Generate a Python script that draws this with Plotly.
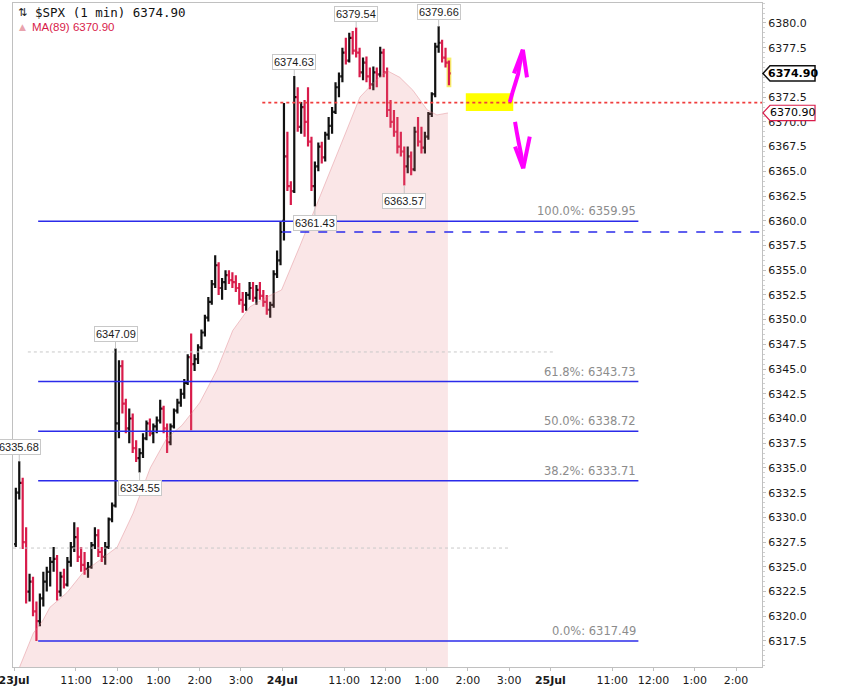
import plotly.graph_objects as go

# ---------------- data ----------------
SESSION = 390   # minutes in one trading session
BAR = 5         # minutes per bar

# 23 Jul session (5-minute bars)
day1_open = [6327.3, 6332.5, 6333.5, 6327.5, 6322.5, 6323.5, 6320.5, 6319.5, 6321.8, 6323.5,
             6324.5, 6325.5, 6325.8, 6322.5, 6324.0, 6323.2, 6325.5, 6327.0, 6328.0, 6326.0,
             6325.2, 6324.8, 6325.0, 6327.2, 6328.2, 6326.5, 6326.0, 6327.0, 6329.8, 6331.2,
             6339.5, 6345.3, 6341.5, 6339.0, 6340.0, 6337.0, 6336.0, 6336.5, 6338.0, 6339.5,
             6338.5, 6339.2, 6339.8, 6341.0, 6339.0, 6337.6, 6339.2, 6340.8, 6341.6, 6342.5,
             6343.6, 6346.2, 6345.5, 6346.0, 6347.2, 6348.7, 6350.2, 6351.8, 6353.6, 6355.5,
             6353.2, 6353.8, 6354.5, 6354.0, 6353.8, 6353.2, 6352.0, 6351.5, 6352.5, 6353.2,
             6352.2, 6353.0, 6352.4, 6351.8, 6351.0, 6351.5, 6354.6, 6356.0]
day1_high = [6333.0, 6335.68, 6334.0, 6329.0, 6324.3, 6324.0, 6321.5, 6322.3, 6324.5, 6325.0,
             6326.0, 6327.0, 6326.2, 6324.5, 6324.8, 6326.0, 6327.5, 6329.5, 6329.0, 6327.0,
             6326.5, 6325.5, 6327.5, 6329.0, 6328.8, 6327.0, 6327.5, 6330.0, 6331.5, 6347.09,
             6345.9, 6345.9, 6342.0, 6341.0, 6340.5, 6337.8, 6337.0, 6338.5, 6339.8, 6340.0,
             6339.5, 6340.2, 6341.9, 6341.3, 6339.5, 6339.5, 6341.0, 6342.0, 6343.0, 6344.0,
             6346.5, 6348.6, 6346.5, 6347.5, 6349.0, 6350.5, 6352.3, 6354.0, 6356.5, 6355.8,
             6354.2, 6355.0, 6355.0, 6354.8, 6354.5, 6353.7, 6352.8, 6352.8, 6353.8, 6353.8,
             6353.5, 6353.8, 6353.0, 6352.5, 6351.8, 6355.0, 6357.0, 6359.95]
day1_low = [6327.0, 6331.8, 6326.8, 6321.3, 6321.5, 6320.0, 6317.49, 6319.0, 6321.0, 6322.5,
            6323.0, 6324.5, 6321.6, 6322.0, 6322.8, 6323.0, 6325.0, 6326.5, 6325.5, 6324.5,
            6324.2, 6323.9, 6324.8, 6326.8, 6326.0, 6325.5, 6325.2, 6326.8, 6329.5, 6331.0,
            6338.0, 6340.5, 6338.5, 6337.5, 6336.5, 6335.6, 6334.55, 6336.0, 6337.8, 6338.2,
            6337.5, 6338.5, 6339.5, 6338.5, 6336.5, 6337.3, 6339.0, 6340.5, 6341.2, 6342.0,
            6343.4, 6338.8, 6344.8, 6345.5, 6347.0, 6348.3, 6349.8, 6351.5, 6353.2, 6352.5,
            6352.0, 6353.0, 6353.6, 6353.2, 6352.8, 6351.5, 6350.7, 6350.9, 6352.0, 6351.8,
            6351.5, 6352.0, 6351.3, 6350.5, 6350.2, 6351.2, 6354.2, 6355.5]
day1_close = [6332.5, 6333.5, 6327.5, 6322.5, 6323.5, 6320.5, 6319.5, 6321.8, 6323.5, 6324.5,
              6325.5, 6325.8, 6322.5, 6324.0, 6323.2, 6325.5, 6327.0, 6328.0, 6326.0, 6325.2,
              6324.8, 6325.0, 6327.2, 6328.2, 6326.5, 6326.0, 6327.0, 6329.8, 6331.2, 6339.5,
              6345.3, 6341.5, 6339.0, 6340.0, 6337.0, 6336.0, 6336.5, 6338.0, 6339.5, 6338.5,
              6339.2, 6339.8, 6341.0, 6339.0, 6337.6, 6339.2, 6340.8, 6341.6, 6342.5, 6343.6,
              6346.2, 6345.5, 6346.0, 6347.2, 6348.7, 6350.2, 6351.8, 6353.6, 6355.5, 6353.2,
              6353.8, 6354.5, 6354.0, 6353.8, 6353.2, 6352.0, 6351.5, 6352.5, 6353.2, 6352.2,
              6353.0, 6352.4, 6351.8, 6351.0, 6351.5, 6354.6, 6356.0, 6358.86]

# 24 Jul session (5-minute bars, up to ~1:35)
day2_open = [6360.0, 6366.5, 6363.5, 6363.0, 6372.5, 6369.5, 6371.5, 6370.0, 6368.0, 6363.5,
             6365.5, 6367.5, 6366.4, 6368.7, 6369.6, 6371.0, 6373.5, 6374.6, 6377.0, 6376.2,
             6378.5, 6377.2, 6377.0, 6375.0, 6376.0, 6374.6, 6373.8, 6375.0, 6374.8, 6377.0,
             6375.0, 6371.2, 6370.0, 6369.0, 6367.5, 6367.0, 6365.5, 6366.5, 6365.2, 6369.0,
             6368.0, 6367.4, 6368.5, 6370.8, 6372.8, 6377.6, 6378.0, 6376.5, 6376.0]
day2_high = [6371.9, 6369.0, 6364.0, 6374.63, 6373.5, 6372.0, 6372.2, 6373.5, 6368.5, 6366.0,
             6367.9, 6368.0, 6369.0, 6370.5, 6371.5, 6374.0, 6375.0, 6377.5, 6378.5, 6379.0,
             6379.2, 6379.54, 6377.5, 6376.5, 6376.6, 6375.5, 6375.6, 6375.5, 6377.6, 6377.4,
             6375.5, 6372.2, 6371.2, 6370.5, 6369.0, 6367.5, 6367.5, 6367.0, 6369.5, 6370.5,
             6369.5, 6369.0, 6371.0, 6373.0, 6378.0, 6379.66, 6378.3, 6377.5, 6376.2]
day2_low = [6358.0, 6363.0, 6361.6, 6362.8, 6369.0, 6368.8, 6368.5, 6367.5, 6363.0, 6361.43,
            6365.0, 6365.8, 6366.0, 6368.2, 6368.8, 6370.8, 6372.5, 6374.0, 6375.8, 6376.0,
            6376.8, 6376.5, 6374.5, 6374.2, 6374.0, 6373.3, 6373.2, 6373.5, 6374.5, 6374.5,
            6370.5, 6369.4, 6368.5, 6366.8, 6366.5, 6363.57, 6364.8, 6364.6, 6365.0, 6367.5,
            6366.8, 6366.8, 6368.2, 6370.5, 6372.5, 6377.0, 6376.0, 6375.5, 6373.7]
day2_close = [6366.5, 6363.5, 6363.0, 6372.5, 6369.5, 6371.5, 6370.0, 6368.0, 6363.5, 6365.5,
              6367.5, 6366.4, 6368.7, 6369.6, 6371.0, 6373.5, 6374.6, 6377.0, 6376.2, 6378.5,
              6377.2, 6377.0, 6375.0, 6376.0, 6374.6, 6373.8, 6375.0, 6374.8, 6377.0, 6375.0,
              6371.2, 6370.0, 6369.0, 6367.5, 6367.0, 6365.5, 6366.5, 6365.2, 6369.0, 6368.0,
              6367.4, 6368.5, 6370.8, 6372.8, 6377.6, 6378.0, 6376.5, 6376.0, 6374.90]

# MA(89) read along its edge (minutes since 23 Jul open)
ma_minute = [0, 12, 28, 42, 52, 77, 100, 125, 150, 173, 198, 222, 244, 270, 295, 318, 343,
             368, 389, 416, 455, 484, 503, 522, 542, 561, 580, 601, 615, 631]
ma_value = [6313.5, 6315.6, 6318.3, 6319.6, 6320.9, 6322.4, 6324.4, 6325.7, 6327.0, 6330.4,
            6335.0, 6338.0, 6339.3, 6341.6, 6344.9, 6348.9, 6351.3, 6352.3, 6353.0, 6357.5,
            6364.1, 6369.2, 6372.5, 6373.9, 6375.2, 6374.5, 6373.2, 6371.2, 6370.7, 6370.9]

last_price = 6374.90
ma_last = 6370.90
prev_close = 6358.86
drawn_level = 6371.95
gray_levels = [6346.73, 6326.90]
gray_spans = [(20, 784), (-1.6, 721)]

fib_pct = ["100.0%", "61.8%", "50.0%", "38.2%", "0.0%"]
fib_level = [6359.95, 6343.73, 6338.72, 6333.71, 6317.49]
fib_span = (35, 908)

# swing labels: (session, bar index, value, side)
swing_session = [0, 0, 0, 1, 1, 1, 1, 1]
swing_bar = [1, 29, 36, 3, 9, 21, 35, 45]
swing_value = [6335.68, 6347.09, 6334.55, 6374.63, 6361.43, 6379.54, 6363.57, 6379.66]
swing_side = ["up", "up", "down", "up", "down", "up", "down", "up"]

x_tick_minutes = [0, 90, 150, 210, 270, 330, 390, 480, 540, 600, 660, 720, 780, 870, 930, 990, 1050]
x_tick_text = ["<b>23Jul</b>", "11:00", "12:00", "1:00", "2:00", "3:00",
               "<b>24Jul</b>", "11:00", "12:00", "1:00", "2:00", "3:00",
               "<b>25Jul</b>", "11:00", "12:00", "1:00", "2:00"]
# 6375.0 sits under the last-price tag in the reference, so it is not printed
y_tick_values = [6317.5, 6320.0, 6322.5, 6325.0, 6327.5, 6330.0, 6332.5, 6335.0, 6337.5,
                 6340.0, 6342.5, 6345.0, 6347.5, 6350.0, 6352.5, 6355.0, 6357.5, 6360.0,
                 6362.5, 6365.0, 6367.5, 6370.0, 6372.5, 6377.5, 6380.0]

X_RANGE = [-1.6, 1087.8]
Y_RANGE = [6314.87, 6382.02]

# hand-drawn markup (chart units)
highlight_box = dict(x0=657, x1=726, y0=6371.1, y1=6372.9)
up_arrow = [(721, 6372.0), (725, 6373.0), (729, 6373.9), (733, 6374.8), (736, 6376.0), (740, 6377.3)]
up_barbs = [[(727, 6374.9), (740, 6377.3)], [(746, 6374.5), (740, 6377.3)]]
down_arrow = [(728.6, 6370.0), (731, 6369.0), (734, 6367.9), (737.5, 6366.7), (740.5, 6365.3)]
down_barbs = [[(728.6, 6367.5), (740.5, 6365.3)], [(750, 6368.5), (740.5, 6365.3)]]

# ---------------- figure ----------------
UP = "#111111"
DOWN = "#d81b4a"
BLUE = "#2b2bea"
FONT = "DejaVu Sans"

x1 = [BAR * i + BAR / 2 for i in range(len(day1_open))]
x2 = [SESSION + BAR * i + BAR / 2 for i in range(len(day2_open))]
bar_x = [x1, x2]

fig = go.Figure()

# translucent MA mountain so bars beneath it stay visible
fig.add_trace(go.Scatter(
    x=ma_minute, y=ma_value, mode="lines",
    line=dict(color="rgba(220,120,130,0.40)", width=1),
    fill="tozeroy", fillcolor="rgba(226,120,130,0.19)",
    hoverinfo="skip", showlegend=False))

fig.add_trace(go.Ohlc(
    x=x1 + x2,
    open=day1_open + day2_open, high=day1_high + day2_high,
    low=day1_low + day2_low, close=day1_close + day2_close,
    increasing=dict(line=dict(color=UP, width=2.2)),
    decreasing=dict(line=dict(color=DOWN, width=2.2)),
    tickwidth=0.5, hoverinfo="skip", showlegend=False))

shapes = []
# highlight behind last bar
shapes.append(dict(type="rect", xref="x", yref="y", layer="below",
                   x0=x2[-1] - 3.5, x1=x2[-1] + 3.5,
                   y0=day2_low[-1] - 0.2, y1=day2_high[-1] + 0.3,
                   fillcolor="#f6ee6a", line=dict(width=0)))
# gray dotted reference lines
for lvl, (a, b) in zip(gray_levels, gray_spans):
    shapes.append(dict(type="line", xref="x", yref="y", x0=a, x1=b, y0=lvl, y1=lvl,
                       line=dict(color="#c9c9c9", width=1, dash="dot")))
# Fibonacci lines
for lvl in fib_level:
    shapes.append(dict(type="line", xref="x", yref="y", x0=fib_span[0], x1=fib_span[1],
                       y0=lvl, y1=lvl, line=dict(color=BLUE, width=1.5)))
# previous close dashed
shapes.append(dict(type="line", xref="x", yref="y", x0=SESSION, x1=X_RANGE[1],
                   y0=prev_close, y1=prev_close, line=dict(color=BLUE, width=1.3, dash="dash")))
# yellow highlighter
shapes.append(dict(type="rect", xref="x", yref="y", fillcolor="#ffff00",
                   line=dict(width=0), **highlight_box))
# red dotted drawn level
shapes.append(dict(type="line", xref="x", yref="y", x0=361, x1=X_RANGE[1],
                   y0=drawn_level, y1=drawn_level,
                   line=dict(color="#f03c3c", width=1.6, dash="dot")))


def path_of(pts):
    return "M " + " L ".join(f"{a},{b}" for a, b in pts)


for seg in [up_arrow] + up_barbs + [down_arrow] + down_barbs:
    shapes.append(dict(type="path", xref="x", yref="y", path=path_of(seg),
                       line=dict(color="#ff00ff", width=4)))


# right-axis price tags
def tag(y, border, width):
    h = 0.78
    tip, left, right = 1.0013, 1.0107, 1.0708
    return dict(type="path", xref="paper", yref="y",
                path=f"M {tip},{y} L {left},{y + h} L {right},{y + h} L {right},{y - h} L {left},{y - h} Z",
                fillcolor="white", line=dict(color=border, width=width))


shapes.append(tag(last_price, "#111111", 1.5))
shapes.append(tag(ma_last, DOWN, 1.2))

annotations = []
# fib labels
for pct, lvl in zip(fib_pct, fib_level):
    annotations.append(dict(x=fib_span[1], y=lvl, xref="x", yref="y", xanchor="right",
                            yanchor="bottom", yshift=1, showarrow=False,
                            text=f"{pct}: {lvl:.2f}",
                            font=dict(family=FONT, size=11.5, color="#8c8c8c")))
# swing labels
for s, b, v, side in zip(swing_session, swing_bar, swing_value, swing_side):
    annotations.append(dict(x=bar_x[s][b], y=v, xref="x", yref="y",
                            text=f"{v:.2f}", showarrow=True, arrowhead=0,
                            arrowwidth=1, arrowcolor="#c4c4c4",
                            ax=0, ay=-14 if side == "up" else 16,
                            bgcolor="white", bordercolor="#c8c8c8", borderwidth=1, borderpad=1,
                            font=dict(family="Liberation Sans", size=11, color="#1a1a1a")))
# price tag texts
annotations.append(dict(x=1.0414, y=last_price, xref="paper", yref="y", showarrow=False,
                        xanchor="center", yanchor="middle",
                        text=f"<b>{last_price:.2f}</b>",
                        font=dict(family=FONT, size=11, color="#000")))
annotations.append(dict(x=1.0414, y=ma_last, xref="paper", yref="y", showarrow=False,
                        xanchor="center", yanchor="middle",
                        text=f"{ma_last:.2f}",
                        font=dict(family=FONT, size=11, color="#000")))
# header
annotations.append(dict(x=0.004, y=0.985, xref="paper", yref="paper", xanchor="left",
                        yanchor="middle", showarrow=False, text="⇅",
                        font=dict(family=FONT, size=11, color="#222")))
annotations.append(dict(x=0.0267, y=0.985, xref="paper", yref="paper", xanchor="left",
                        yanchor="middle", showarrow=False, text=f"$SPX (1 min) {last_price:.2f}",
                        font=dict(family="DejaVu Sans Mono", size=12.5, color="#111")))
annotations.append(dict(x=0.005, y=0.964, xref="paper", yref="paper", xanchor="left",
                        yanchor="middle", showarrow=False, text="▲",
                        font=dict(family=FONT, size=9, color="#e9a3ad")))
annotations.append(dict(x=0.0227, y=0.964, xref="paper", yref="paper", xanchor="left",
                        yanchor="middle", showarrow=False, text=f"MA(89) {ma_last:.2f}",
                        font=dict(family="Liberation Sans", size=11.5, color=DOWN)))

fig.update_layout(
    width=854, height=686,
    margin=dict(l=13, r=92, t=3, b=19),
    paper_bgcolor="white", plot_bgcolor="white",
    shapes=shapes, annotations=annotations, showlegend=False,
    xaxis=dict(range=X_RANGE, showgrid=False, zeroline=False, automargin=False,
               showline=True, mirror=True, linecolor="#c0c0c0", linewidth=1,
               tickmode="array", tickvals=x_tick_minutes, ticktext=x_tick_text,
               ticks="outside", ticklen=3, tickcolor="#c0c0c0",
               ticklabeloverflow="allow",
               tickfont=dict(family=FONT, size=11, color="#1a1a1a"),
               rangeslider=dict(visible=False)),
    yaxis=dict(range=Y_RANGE, side="right", showgrid=False, zeroline=False, automargin=False,
               showline=True, mirror=True, linecolor="#c0c0c0", linewidth=1,
               tickmode="array", tickvals=y_tick_values, tickformat=".1f",
               ticks="outside", ticklen=3, tickcolor="#c0c0c0",
               minor=dict(dtick=0.5, ticks="outside", ticklen=2, tickcolor="#d0d0d0"),
               tickfont=dict(family=FONT, size=11, color="#1a1a1a")),
)

fig.write_html("out.html", config={"displayModeBar": False},
               post_script="document.body.style.margin='0px';")
